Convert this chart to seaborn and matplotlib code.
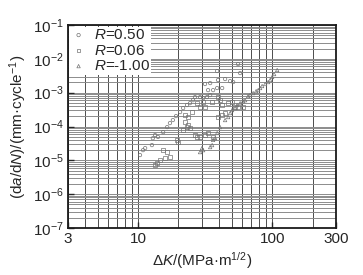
import numpy as np
import pandas as pd
import matplotlib
matplotlib.use("Agg")
import matplotlib.pyplot as plt
import matplotlib.ticker as mticker
import seaborn as sns

# dati: dK (MPa m^1/2), da/dN (mm/ciclo)
dk_r050 = [10.35, 10.9, 11.3, 12.7, 12.9, 13.4, 14.1, 15.4, 16.5, 17.3, 18.2, 19.2,
           20.6, 21.7, 23.2, 24.4, 25.7, 26.6, 29.0, 30.6, 32.7, 34.5, 36.3, 38.9,
           39.5, 42.4, 44.6, 48.6, 51.2, 55.7, 57.7, 38.9, 34.5, 31.6, 33.3]
dadn_r050 = [1.43e-5, 2.0e-5, 2.3e-5, 2.82e-5, 4.5e-5, 5.6e-5, 4.9e-5, 6.8e-5, 9.6e-5,
             1.26e-4, 1.55e-4, 2.03e-4, 2.67e-4, 3.5e-4, 4.3e-4, 4.9e-4, 6.0e-4, 7.4e-4,
             7.4e-4, 6.9e-4, 7.4e-4, 8.5e-4, 1.19e-3, 1.37e-3, 2.36e-3, 1.37e-3, 2.53e-3,
             2.2e-3, 2.06e-3, 7.0e-3, 3.8e-3, 4.36e-3, 1.92e-3, 1.8e-3, 1.19e-3]

dk_r006 = [13.4, 13.9, 14.6, 15.9, 15.4, 16.5, 17.3, 19.5, 19.9, 22.4, 23.6, 21.7, 23.2,
           24.4, 26.6, 27.6, 29.0, 31.6, 33.3, 36.3, 23.6, 22.4, 25.3, 27.6, 29.0, 31.6,
           30.6, 35.7, 39.5, 40.9, 42.4, 47.0, 50.3, 52.9, 55.7, 60.8, 42.4, 39.5, 44.6]
dadn_r006 = [7.2e-6, 8.3e-6, 1.01e-5, 1.16e-5, 2.0e-5, 1.75e-5, 1.24e-5, 4.0e-5, 3.45e-5,
             1.35e-4, 1.1e-4, 7.8e-5, 9.6e-5, 9.0e-5, 5.6e-5, 4.9e-5, 4.9e-5, 5.6e-5,
             6.4e-5, 4.9e-5, 1.9e-4, 2.17e-4, 2.67e-4, 4.9e-4, 3.75e-4, 3.75e-4, 5.3e-4,
             5.3e-4, 7.4e-4, 6.0e-4, 4.3e-4, 4.9e-4, 5.3e-4, 3.75e-4, 3.75e-4, 3.75e-4,
             2.17e-4, 1.9e-4, 2.49e-4]

dk_rm100 = [29.0, 30.6, 30.0, 34.5, 35.7, 36.3, 37.6, 38.9, 40.9, 44.6, 47.0, 48.6, 50.3,
            52.9, 54.8, 57.7, 60.8, 62.9, 66.2, 68.5, 72.2, 76.0, 78.7, 81.4, 84.2, 88.7,
            93.4, 96.6, 100, 103.5, 109]
dadn_rm100 = [1.75e-5, 2.0e-5, 2.3e-5, 2.46e-5, 2.82e-5, 4.0e-5, 4.5e-5, 6.4e-5, 9.6e-5,
              1.55e-4, 1.9e-4, 2.49e-4, 3.05e-4, 3.5e-4, 4.3e-4, 4.9e-4, 5.6e-4, 6.0e-4,
              7.9e-4, 8.5e-4, 9.7e-4, 1.11e-3, 1.19e-3, 1.37e-3, 1.57e-3, 1.8e-3, 2.06e-3,
              2.36e-3, 2.9e-3, 3.55e-3, 4.67e-3]

serie = [
    (r"$R$=0.50", dk_r050, dadn_r050, "o"),
    (r"$R$=0.06", dk_r006, dadn_r006, "s"),
    (r"$R$=-1.00", dk_rm100, dadn_rm100, "^"),
]

sns.set_style("white")
plt.rcParams["font.family"] = ["Liberation Sans", "DejaVu Sans"]
plt.rcParams["mathtext.fontset"] = "custom"
plt.rcParams["mathtext.rm"] = "Liberation Sans"
plt.rcParams["mathtext.it"] = "Liberation Sans:italic"
plt.rcParams["mathtext.bf"] = "Liberation Sans:bold"

fig = plt.figure(figsize=(3.63, 2.75), dpi=100)
ax = fig.add_axes([0.187, 0.171, 0.739, 0.738])

for nome, dk, dadn, m in serie:
    df = pd.DataFrame({"dK": dk, "dadN": dadn})
    sns.scatterplot(data=df, x="dK", y="dadN", marker=m, s=6, facecolor="none",
                    edgecolor="0.45", linewidth=0.5, label=nome, ax=ax)

ax.set_xscale("log")
ax.set_yscale("log")
ax.set_xlim(3, 300)
ax.set_ylim(1e-7, 1e-1)

ax.xaxis.set_major_locator(mticker.FixedLocator([3, 10, 100, 300]))
ax.xaxis.set_major_formatter(mticker.FixedFormatter(["3", "10", "100", "300"]))
ax.xaxis.set_minor_locator(mticker.LogLocator(base=10, subs=np.arange(2, 10), numticks=100))
ax.yaxis.set_major_locator(mticker.LogLocator(base=10, numticks=20))
ax.yaxis.set_major_formatter(mticker.LogFormatterMathtext())
ax.yaxis.set_minor_locator(mticker.LogLocator(base=10, subs=np.arange(2, 10), numticks=100))

ax.grid(True, axis="x", which="both", color="0.3", linewidth=0.7)
ax.grid(True, axis="y", which="both", color="0.55", linewidth=0.7)
ax.set_axisbelow(True)

ax.tick_params(which="major", direction="in", length=4, width=1, labelsize=11,
               left=True, bottom=True, pad=3)
ax.tick_params(which="minor", length=0)
for sp in ax.spines.values():
    sp.set_linewidth(1.3)
    sp.set_color("0.1")

ax.set_xlabel(r"$\Delta K$/(MPa·m$^{1/2}$)", fontsize=11, labelpad=3)
ax.set_ylabel(r"(d$a$/d$N$)/(mm·cycle$^{-1}$)", fontsize=11, labelpad=3)

leg = ax.legend(loc="upper left", fontsize=11, frameon=True, framealpha=1,
                edgecolor="white", fancybox=False, borderpad=0.1, labelspacing=0.1,
                handlelength=1.0, handletextpad=0.5, borderaxespad=0.1, markerscale=1.0)
leg.get_frame().set_linewidth(0)

fig.savefig("out.png", dpi=100)
